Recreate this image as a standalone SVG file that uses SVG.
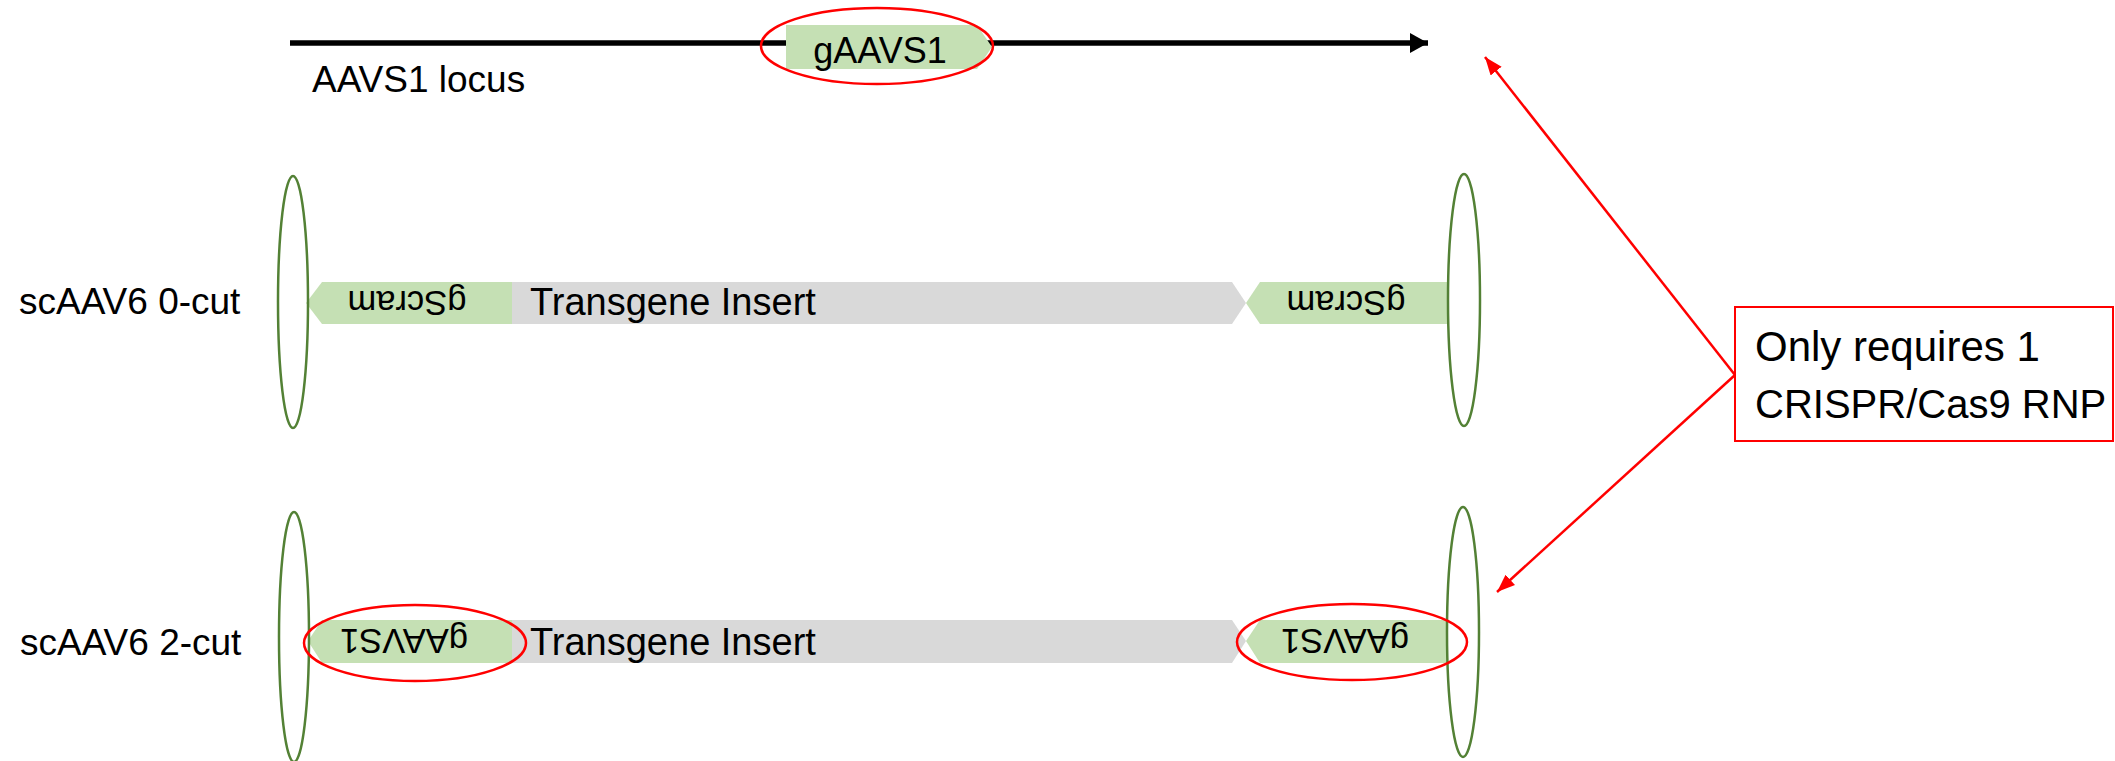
<svg xmlns="http://www.w3.org/2000/svg" width="2115" height="761" viewBox="0 0 2115 761">
<style>
text{font-family:"Liberation Sans",Arial,sans-serif;fill:#000}
.g{fill:#C5E0B4}
.gr{fill:#D9D9D9}
.itr{fill:none;stroke:#538135;stroke-width:2.5}
.red{fill:none;stroke:#FF0000;stroke-width:2.5}
.lbl{font-size:34.5px;text-anchor:middle}
.row{font-size:37px}
.ins{font-size:38px}
.note{font-size:40px}
</style>
<defs>
<marker id="ah-red" markerUnits="userSpaceOnUse" markerWidth="20" markerHeight="16" refX="18" refY="7" orient="auto">
<polygon points="0,0 18,7 0,14" fill="#FF0000"/>
</marker>
<marker id="ah-blk" markerUnits="userSpaceOnUse" markerWidth="20" markerHeight="22" refX="18" refY="10" orient="auto">
<polygon points="0,0 18,10 0,20" fill="#000"/>
</marker>
</defs>

<g id="locus">
<line x1="290" y1="43" x2="1428" y2="43" stroke="#000" stroke-width="5.5" marker-end="url(#ah-blk)"/>
<text x="312" y="92" style="font-size:37px">AAVS1 locus</text>
</g>
<g id="gAAVS1-top">
<polygon class="g" points="786,25 977,25 992,47 977,69 786,69"/>
<text class="lbl" x="880" y="63" style="font-size:36px">gAAVS1</text>
<ellipse class="red" cx="877" cy="46" rx="116" ry="38"/>
</g>

<g id="row-0cut">
<text class="row" x="19" y="314">scAAV6 0-cut</text>
<polygon class="g" points="306,303 322,282 512,282 512,324 322,324"/>
<text class="lbl" x="407" y="315" transform="rotate(180 407 303)">gScram</text>
<polygon class="gr" points="512,282 1232,282 1246,303 1232,324 512,324"/>
<text class="ins" x="530" y="315">Transgene Insert</text>
<polygon class="g" points="1246,303 1260,282 1448,282 1448,324 1260,324"/>
<text class="lbl" x="1346" y="315" transform="rotate(180 1346 303)">gScram</text>
<ellipse class="itr" cx="293" cy="302" rx="15" ry="126"/>
<ellipse class="itr" cx="1464" cy="300" rx="16" ry="126"/>
</g>

<g id="row-2cut">
<text class="row" x="20" y="655">scAAV6 2-cut</text>
<polygon class="g" points="308,641 322,620 512,620 512,663 322,663"/>
<text class="lbl" x="404" y="653" transform="rotate(180 404 641)">gAAVS1</text>
<polygon class="gr" points="512,620 1232,620 1246,641 1232,663 512,663"/>
<text class="ins" x="530" y="655">Transgene Insert</text>
<polygon class="g" points="1246,641 1260,620 1448,620 1448,663 1260,663"/>
<text class="lbl" x="1345" y="653" transform="rotate(180 1345 641)">gAAVS1</text>
<ellipse class="itr" cx="294" cy="637" rx="15" ry="125"/>
<ellipse class="itr" cx="1463" cy="632" rx="16" ry="125"/>
<ellipse class="red" cx="415" cy="643" rx="111" ry="38"/>
<ellipse class="red" cx="1352" cy="642" rx="115" ry="38"/>
</g>

<g id="note">
<rect x="1735" y="307" width="378" height="134" fill="#fff" stroke="#FF0000" stroke-width="2"/>
<text class="note" x="1755" y="361" style="font-size:42px">Only requires 1</text>
<text class="note" x="1755" y="418">CRISPR/Cas9 RNP</text>
</g>

<g id="connectors">
<line x1="1735" y1="375" x2="1485" y2="57" stroke="#FF0000" stroke-width="2.5" marker-end="url(#ah-red)"/>
<line x1="1735" y1="375" x2="1497" y2="592" stroke="#FF0000" stroke-width="2.5" marker-end="url(#ah-red)"/>
</g>
</svg>
